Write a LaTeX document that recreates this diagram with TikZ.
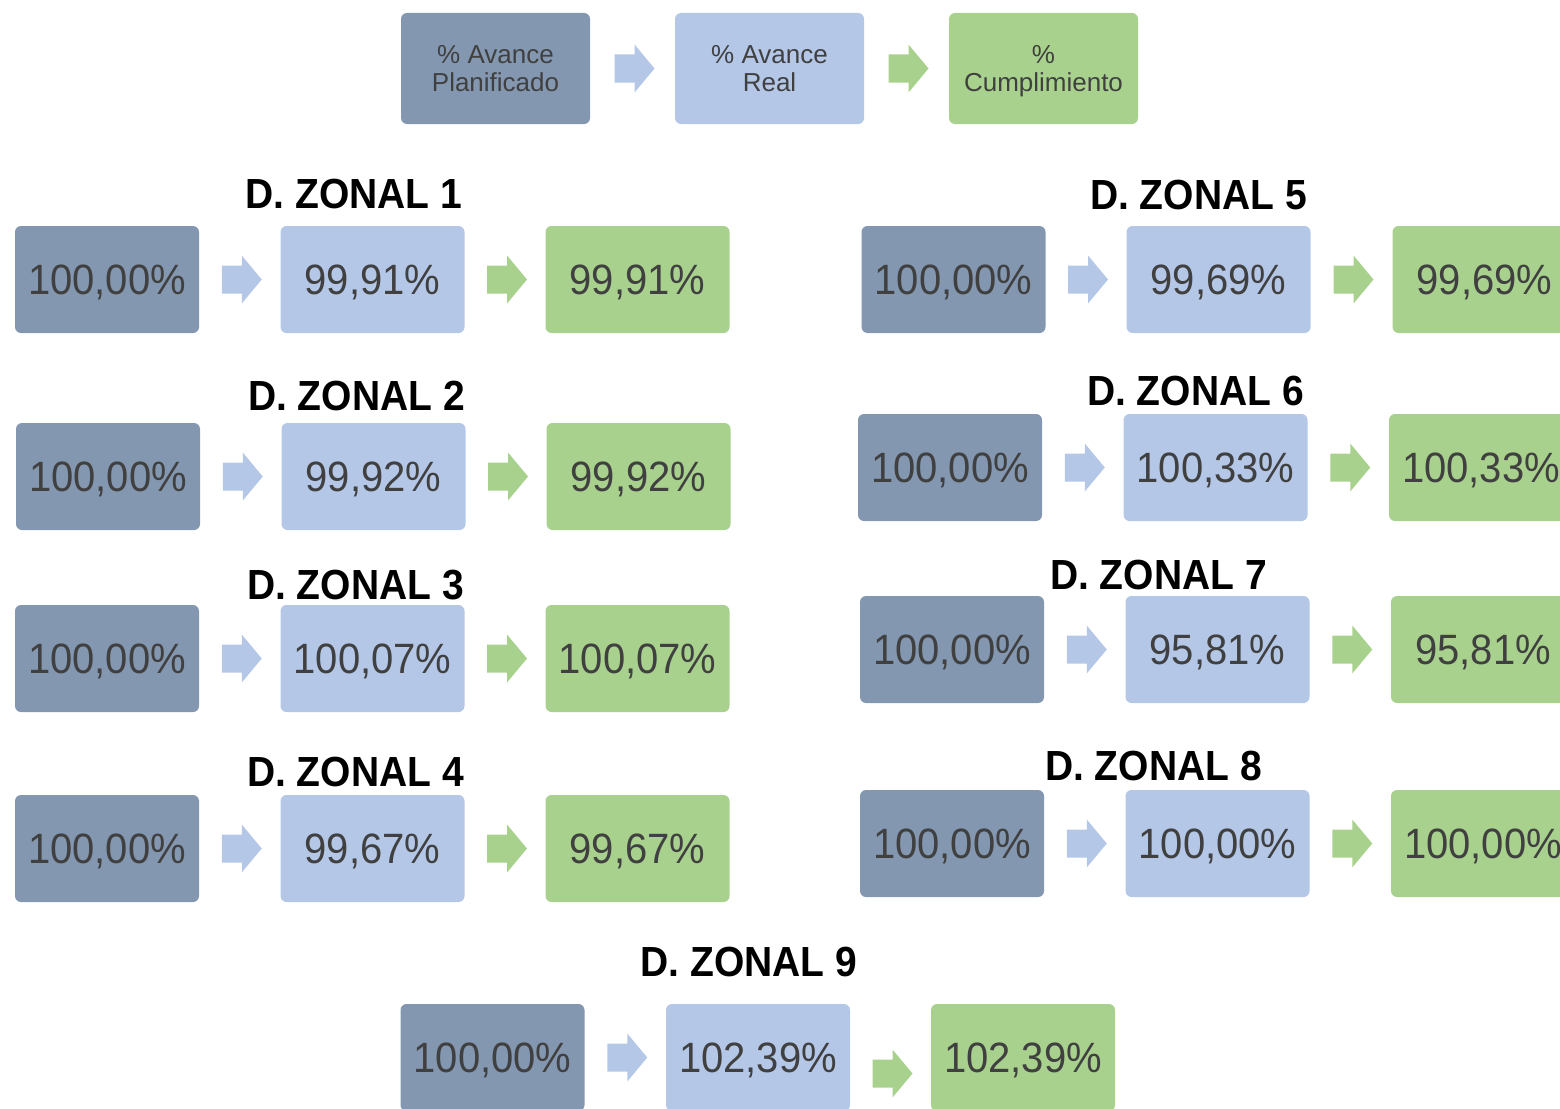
\documentclass[tikz,border=0pt]{standalone}
\usepackage{fontspec}
\setmainfont{Liberation Sans}
\usetikzlibrary{calc}
\definecolor{cplan}{HTML}{8497B0}
\definecolor{creal}{HTML}{B4C7E7}
\definecolor{ccum}{HTML}{A9D18E}
\definecolor{ctxt}{HTML}{404040}
\newcommand{\numtxt}[1]{\scalebox{1}[1.06]{#1}}
\newcommand{\ttltxt}[1]{\scalebox{1}[1.08]{\bfseries #1}}
\newcommand{\fatarr}[4]{%
  \coordinate (#1-#2) at ($(#1.east)!0.5!(#2.west)+(2,#4)$);
  \fill[#3] ($(#1-#2)+(-20,-14)$) -- ++(20,0) -- ++(0,-10) -- ++(20,24) -- ++(-20,24) -- ++(0,-10) -- ++(-20,0) -- cycle;}
\begin{document}
\begin{tikzpicture}[x=1pt,y=-1pt,
  box/.style={rounded corners=6pt, minimum width=184pt, minimum height=107pt, inner sep=0pt, text=ctxt, text depth=0pt, font=\fontsize{40}{48}\selectfont},
  legbox/.style={box, minimum width=189pt, minimum height=111pt, align=center, font=\fontsize{26}{28}\selectfont},
  plan/.style={fill=cplan}, real/.style={fill=creal}, cum/.style={fill=ccum},
  ttl/.style={font=\fontsize{39}{44}\selectfont, text depth=0pt, inner sep=0pt}]
\useasboundingbox (0,0) rectangle (1560,1108);
\clip (0,0) rectangle (1560,1108);
% legend
\node[legbox,plan] (l1) at (495.5,68.5) {\% Avance\\Planificado};
\node[legbox,real] (l2) at (769.5,68.5) {\% Avance\\Real};
\node[legbox,cum]  (l3) at (1043.5,68.5) {\%\\Cumplimiento};
\fatarr{l1}{l2}{creal}{0}
\fatarr{l2}{l3}{ccum}{0}
% zone rows: title, boxes
% Z1
\node[ttl] (t1) at (354,194) {\ttltxt{D. ZONAL 1}};
\node[box,plan] (a1) at (107,279.5) {\numtxt{100,00\%}};
\node[box,real] (b1) at (372.5,279.5) {\numtxt{99,91\%}};
\node[box,cum]  (c1) at (637.5,279.5) {\numtxt{99,91\%}};
% Z2
\node[ttl] (t2) at (356.5,396) {\ttltxt{D. ZONAL 2}};
\node[box,plan] (a2) at (108,476.5) {\numtxt{100,00\%}};
\node[box,real] (b2) at (373.5,476.5) {\numtxt{99,92\%}};
\node[box,cum]  (c2) at (638.5,476.5) {\numtxt{99,92\%}};
% Z3
\node[ttl] (t3) at (355.5,585) {\ttltxt{D. ZONAL 3}};
\node[box,plan] (a3) at (107,658.5) {\numtxt{100,00\%}};
\node[box,real] (b3) at (372.5,658.5) {\numtxt{100,07\%}};
\node[box,cum]  (c3) at (637.5,658.5) {\numtxt{100,07\%}};
% Z4
\node[ttl] (t4) at (355.5,772) {\ttltxt{D. ZONAL 4}};
\node[box,plan] (a4) at (107,848.5) {\numtxt{100,00\%}};
\node[box,real] (b4) at (372.5,848.5) {\numtxt{99,67\%}};
\node[box,cum]  (c4) at (637.5,848.5) {\numtxt{99,67\%}};
% Z5
\node[ttl] (t5) at (1198.5,195) {\ttltxt{D. ZONAL 5}};
\node[box,plan] (a5) at (953.5,279.5) {\numtxt{100,00\%}};
\node[box,real] (b5) at (1218.5,279.5) {\numtxt{99,69\%}};
\node[box,cum]  (c5) at (1484.5,279.5) {\numtxt{99,69\%}};
% Z6
\node[ttl] (t6) at (1195.5,391) {\ttltxt{D. ZONAL 6}};
\node[box,plan] (a6) at (950,467.5) {\numtxt{100,00\%}};
\node[box,real] (b6) at (1215.5,467.5) {\numtxt{100,33\%}};
\node[box,cum]  (c6) at (1481,467.5) {\numtxt{100,33\%}};
% Z7
\node[ttl] (t7) at (1158.5,575) {\ttltxt{D. ZONAL 7}};
\node[box,plan] (a7) at (952,649.5) {\numtxt{100,00\%}};
\node[box,real] (b7) at (1217.5,649.5) {\numtxt{95,81\%}};
\node[box,cum]  (c7) at (1483,649.5) {\numtxt{95,81\%}};
% Z8
\node[ttl] (t8) at (1153.5,766) {\ttltxt{D. ZONAL 8}};
\node[box,plan] (a8) at (952,843.5) {\numtxt{100,00\%}};
\node[box,real] (b8) at (1217.5,843.5) {\numtxt{100,00\%}};
\node[box,cum]  (c8) at (1483,843.5) {\numtxt{100,00\%}};
% Z9
\node[ttl] (t9) at (749,962) {\ttltxt{D. ZONAL 9}};
\node[box,plan] (a9) at (492.5,1057.5) {\numtxt{100,00\%}};
\node[box,real] (b9) at (758,1057.5) {\numtxt{102,39\%}};
\node[box,cum]  (c9) at (1023,1057.5) {\numtxt{102,39\%}};
% arrows
\foreach \i in {1,...,8}{
  \fatarr{a\i}{b\i}{creal}{0}
  \fatarr{b\i}{c\i}{ccum}{0}
}
\fatarr{a9}{b9}{creal}{0}
\fatarr{b9}{c9}{ccum}{16}
\end{tikzpicture}
\end{document}
